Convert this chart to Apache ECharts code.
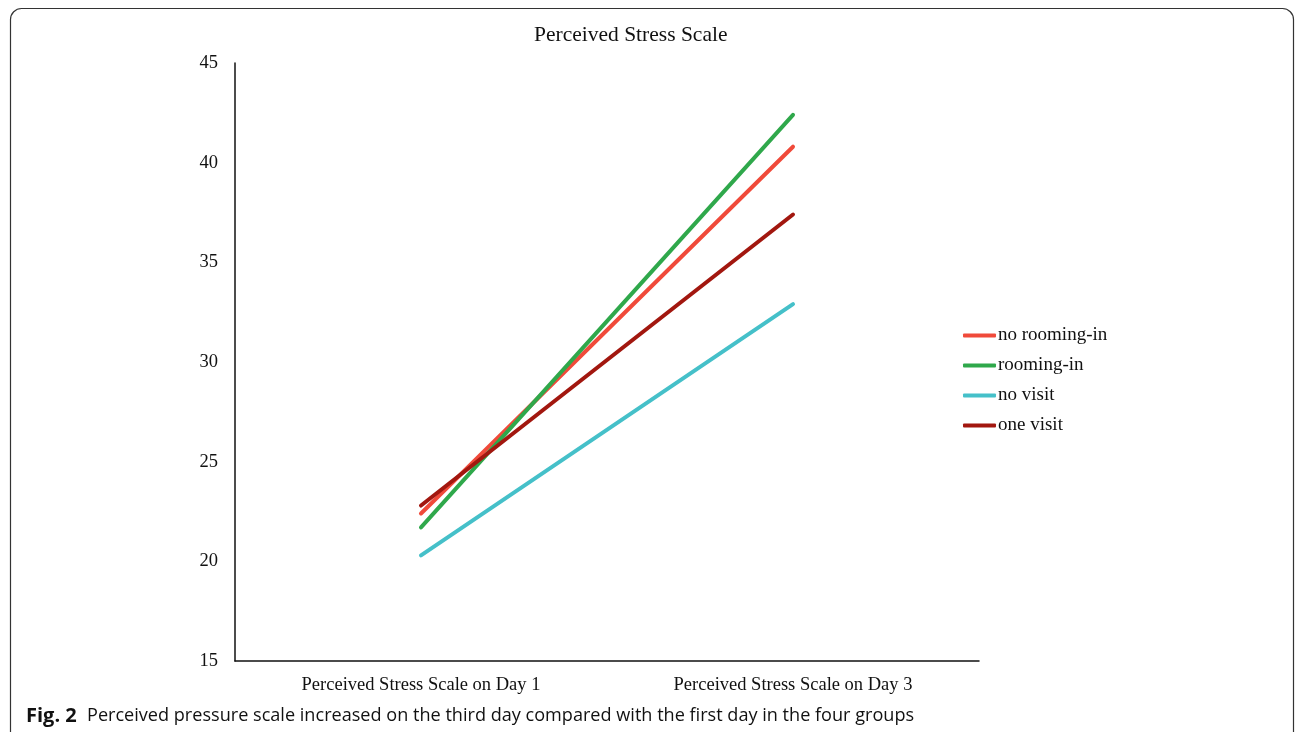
<!DOCTYPE html>
<html>
<head>
<meta charset="utf-8">
<script src="https://cdn.jsdelivr.net/npm/echarts@6/dist/echarts.min.js"></script>
<style>html,body{margin:0;padding:0;background:#fff}#c{width:1295px;height:732px}</style>
</head>
<body>
<div id="c"></div>
<script>
const categories = ['Perceived Stress Scale on Day 1', 'Perceived Stress Scale on Day 3'];
const seriesNames = ['no rooming-in', 'rooming-in', 'no visit', 'one visit'];
const noRoomingIn = [22.4, 40.8];
const roomingIn = [21.7, 42.4];
const noVisit = [20.3, 32.9];
const oneVisit = [22.8, 37.4];
const yTicks = [15, 20, 25, 30, 35, 40, 45];

const colors = ['#F04A3A', '#2FA84B', '#45C0C9', '#A2170F'];
const values = [noRoomingIn, roomingIn, noVisit, oneVisit];
const serif = '"Liberation Serif", "DejaVu Serif", serif';

const chart = echarts.init(document.getElementById('c'), null, {renderer: 'canvas'});
chart.setOption({
  animation: false,
  backgroundColor: '#fff',
  title: {
    text: 'Perceived Stress Scale',
    left: 529, top: 19,
    textStyle: {fontFamily: serif, fontSize: 21.5, fontWeight: 'normal', color: '#111'}
  },
  legend: {
    orient: 'vertical',
    left: 958, top: 321,
    itemWidth: 33, itemHeight: 4, itemGap: 11,
    icon: 'roundRect',
    data: seriesNames,
    textStyle: {fontFamily: serif, fontSize: 19, color: '#111', padding: [0, 0, 0, -3], height: 19, lineHeight: 19}
  },
  grid: {left: 235, right: 316, top: 63, bottom: 71},
  xAxis: {
    type: 'category',
    data: categories,
    boundaryGap: true,
    axisLine: {lineStyle: {color: '#111', width: 1.5}},
    axisTick: {show: false},
    axisLabel: {fontFamily: serif, fontSize: 18.5, color: '#111', margin: 15}
  },
  yAxis: {
    type: 'value',
    min: yTicks[0], max: yTicks[yTicks.length - 1], interval: 5,
    axisLine: {show: true, lineStyle: {color: '#111', width: 1.5}},
    axisTick: {show: false},
    splitLine: {show: false},
    axisLabel: {fontFamily: serif, fontSize: 18.5, color: '#111', margin: 17}
  },
  series: seriesNames.map((n, i) => ({
    name: n,
    type: 'line',
    data: values[i],
    symbol: 'none',
    color: colors[i],
    lineStyle: {width: 4, color: colors[i], cap: 'round'}
  })),
  graphic: [
    {type: 'rect', shape: {x: 10.5, y: 8.5, width: 1283, height: 740, r: 11}, style: {fill: null, stroke: '#333', lineWidth: 1.2}, silent: true},
    {type: 'text', left: 26, top: 706, style: {text: 'Fig. 2', font: 'bold 20px "Open Sans", "Noto Sans", sans-serif', fill: '#111', letterSpacing: 1}},
    {type: 'text', left: 87, top: 707, style: {text: 'Perceived pressure scale increased on the third day compared with the first day in the four groups', font: '18.1px "Open Sans", "Noto Sans", sans-serif', fill: '#111'}}
  ]
});
</script>
</body>
</html>
